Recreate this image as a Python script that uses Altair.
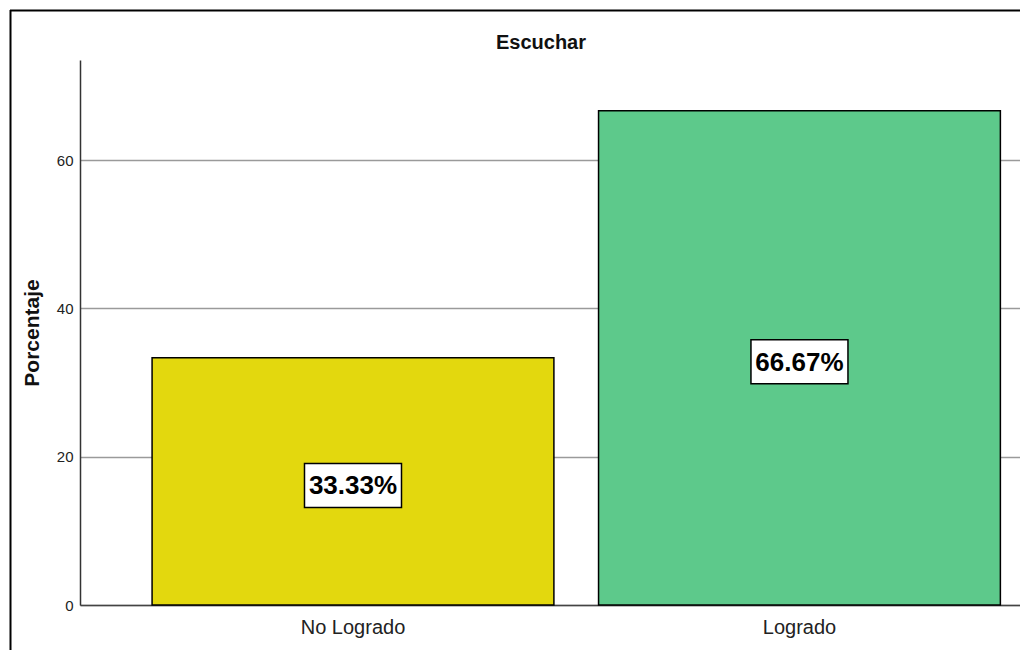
import altair as alt
import pandas as pd

categories = ["No Logrado", "Logrado"]
percentages = [33.33, 66.67]
labels = ["33.33%", "66.67%"]
colors = ["#E3D80E", "#5DC98B"]
y_ticks = [0, 20, 40, 60]
chart_title = "Escuchar"

df = pd.DataFrame({"cat": categories, "pct": percentages, "lab": labels})

FONT = "Liberation Sans"

x_enc = alt.X(
    "cat:N",
    sort=categories,
    scale=alt.Scale(paddingInner=0.1, paddingOuter=0.1027, align=0.786),
    axis=alt.Axis(
        title=None, labelAngle=0, labelFontSize=20, labelFont=FONT,
        labelColor="#222", ticks=False, domainColor="#444", domainWidth=1.5,
        labelPadding=12, grid=False,
    ),
)
y_scale = alt.Scale(domain=[0, 73.5], nice=False)

bars = alt.Chart(df).mark_bar(stroke="black", strokeWidth=1.5).encode(
    x=x_enc,
    y=alt.Y(
        "pct:Q",
        scale=y_scale,
        axis=alt.Axis(
            values=y_ticks, title="Porcentaje", titleFont=FONT, titleFontSize=21,
            titleFontWeight="bold", titleColor="#111", titlePadding=14,
            labelFont=FONT, labelFontSize=15, labelColor="#222", ticks=False,
            labelPadding=7, gridColor="#9a9a9a", gridWidth=1.3,
            domainColor="#333", domainWidth=1.5,
        ),
    ),
    color=alt.Color("cat:N", scale=alt.Scale(domain=categories, range=colors), legend=None),
)

base_mid = alt.Chart(df).transform_calculate(mid="datum.pct / 2")

boxes = base_mid.mark_point(
    shape="M-1,-0.4536L1,-0.4536L1,0.4536L-1,0.4536Z",
    size=97 * 97, filled=True, fill="white", stroke="black",
    strokeWidth=1.5, opacity=1, yOffset=4,
).encode(
    x=alt.X("cat:N", sort=categories),
    y=alt.Y("mid:Q", scale=y_scale),
)

texts = base_mid.mark_text(
    font=FONT, fontSize=26, fontWeight="bold", color="black",
    baseline="middle", align="center", dy=5,
).encode(
    x=alt.X("cat:N", sort=categories),
    y=alt.Y("mid:Q", scale=y_scale),
    text="lab:N",
)

frame_data = alt.Data(values=[{"t": chart_title}])
title_mark = alt.Chart(frame_data).mark_text(
    font=FONT, fontSize=20, fontWeight="bold", color="#111",
    align="center", baseline="alphabetic",
).encode(x=alt.value(461), y=alt.value(-11), text="t:N")

frame_top = alt.Chart(frame_data).mark_rule(color="black", strokeWidth=2).encode(
    x=alt.value(-70), x2=alt.value(960), y=alt.value(-49.5)
)
frame_left = alt.Chart(frame_data).mark_rule(color="black", strokeWidth=2).encode(
    x=alt.value(-69.5), y=alt.value(-50), y2=alt.value(620)
)

chart = (
    alt.layer(bars, boxes, texts, title_mark, frame_top, frame_left)
    .properties(
        width=940, height=545,
        autosize=alt.AutoSizeParams(type="none"),
        padding={"left": 72, "top": 52, "right": 0, "bottom": 45},
        view=alt.ViewBackground(stroke="transparent", strokeWidth=0),
    )
    .configure_view(stroke="transparent", strokeWidth=0)
    .configure(background="white")
)

chart.save("out.html", embed_options={"renderer": "svg", "actions": False})
